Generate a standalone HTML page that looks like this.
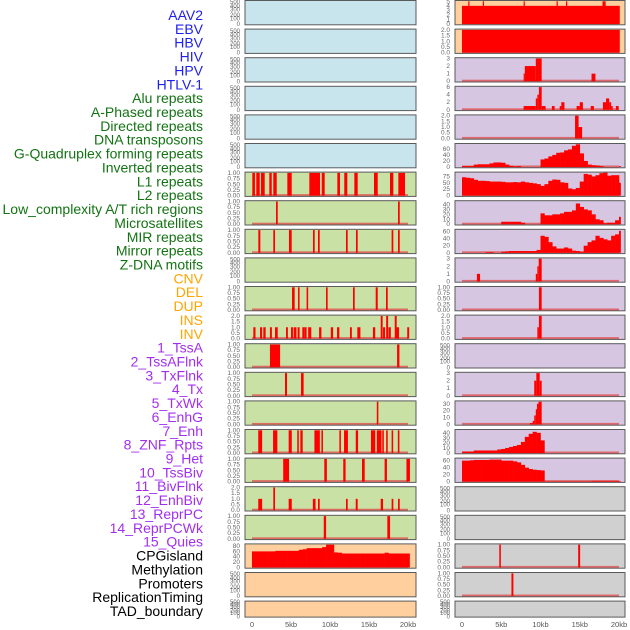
<!DOCTYPE html>
<html><head><meta charset="utf-8"><style>
html,body{margin:0;padding:0;background:#fff;width:630px;height:630px;overflow:hidden}
svg{display:block;font-family:"Liberation Sans",sans-serif}
</style></head><body>
<svg id="chart" width="630" height="630" viewBox="0 0 630 630" xmlns="http://www.w3.org/2000/svg"></svg>
<script>
const labels = ["AAV2","EBV","HBV","HIV","HPV","HTLV-1","Alu repeats","A-Phased repeats","Directed repeats","DNA transposons","G-Quadruplex forming repeats","Inverted repeats","L1 repeats","L2 repeats","Low_complexity A/T rich regions","Microsatellites","MIR repeats","Mirror repeats","Z-DNA motifs","CNV","DEL","DUP","INS","INV","1_TssA","2_TssAFlnk","3_TxFlnk","4_Tx","5_TxWk","6_EnhG","7_Enh","8_ZNF_Rpts","9_Het","10_TssBiv","11_BivFlnk","12_EnhBiv","13_ReprPC","14_ReprPCWk","15_Quies","CPGisland","Methylation","Promoters","ReplicationTiming","TAD_boundary"];
const labelGroups = [6,13,5,15,5];
const groupColors = ["#1f1fef","#137313","#ffa500","#a22ff0","#000000"];
const xTicks = [0,5,10,15,20];
const xTickLabels = ["0","5kb","10kb","15kb","20kb"];

// left column track data (segments [startKb,endKb,value] or 0.5kb bins)
const L6 = [[0.04,0.38,1],[0.55,0.99,1],[1.15,1.63,1],[2.22,2.53,1],[2.73,3.17,1],[4.53,5.09,1],[7.35,8.72,1],[8.94,9.32,1],[10.94,11.28,1],[11.83,12.22,1],[13.12,13.55,1],[15.64,16.12,1],[17.69,18.12,1],[18.76,19.62,1]];
const L7 = [[3.08,3.3,1],[18.72,18.94,1]];
const L8 = [[0.81,1.07,1],[2.73,2.95,1],[4.74,5.09,1],[7.82,8.04,1],[8.46,8.68,1],[12.05,12.27,1],[13.33,13.55,1],[17.9,18.12,1],[18.72,18.94,1]];
const L10 = [[5.13,5.47,1],[5.9,6.1,1],[7.0,7.2,1],[9.49,9.7,1],[12.95,13.17,1],[15.86,16.12,1],[17.18,17.4,1]];
const L11 = [[0.17,0.45,1],[1.03,1.3,1],[1.45,1.75,1],[2.3,2.55,1],[2.95,3.3,1],[4.36,4.6,1],[5.0,5.25,1],[5.34,5.7,1],[5.85,6.1,1],[6.45,6.7,1],[6.7,7.0,1],[7.2,7.6,1],[8.6,8.9,1],[10.1,10.4,1],[10.9,11.2,1],[12.56,12.8,1],[13.5,13.9,1],[15.5,15.8,1],[16.5,16.75,2],[16.8,17.05,1],[17.2,17.45,2],[17.5,17.8,1],[18.3,18.55,2],[18.5,18.85,1],[19.9,20.15,1]];
const L12 = [[2.3,3.6,1],[18.6,18.9,1]];
const L13 = [[4.23,4.49,1],[6.28,6.62,1]];
const L14 = [[16.0,16.2,1]];
const L15 = [[0.8,1.3,1],[2.7,3.25,1],[4.7,5.1,1],[5.8,6.0,1],[6.2,6.5,1],[8.0,8.7,1],[8.9,9.1,1],[11.2,11.4,1],[11.8,12.3,1],[13.3,13.6,1],[15.25,15.8,1],[16.0,16.6,1],[16.7,16.9,1],[17.2,17.4,1],[17.9,18.1,1],[18.7,18.9,1]];
const L16 = [[4.0,4.75,1],[9.27,9.6,1],[11.7,12.0,1],[14.1,14.45,1],[17.0,17.3,1],[19.8,20.25,1]];
const L17 = [[0.8,1.3,1],[2.73,2.95,2],[4.7,5.1,1],[7.8,8.15,1],[8.46,8.68,1],[12.05,12.27,1],[13.3,13.55,1],[16.5,16.8,1],[17.9,18.12,1],[18.72,18.94,1]];
const L18 = [[9.2,9.5,1],[17.35,17.7,1]];
const L19 = [60,60,60,60,60,60,62,62,62,62,62,62,66,68,72,72,72,72,76,85,85,56,55,52,52,52,52,52,52,52,52,52,52,52,55,52,52,52,52,52,52];

// right column track data
const R0 = [[0,20.1,4],[0.8,0.95,5],[2.65,2.8,5],[7.85,8.0,5],[12.05,12.2,5],[13.25,13.4,5],[17.9,18.3,5]];
const R1 = [[0,20.1,2]];
const R2 = [[7.85,8.0,1],[8.0,9.4,2],[9.4,10.15,3],[16.5,17.0,1]];
const R3 = [[7.85,9.4,1],[9.4,9.6,3],[9.6,9.8,4],[9.8,10.15,6],[10.15,10.65,1],[11.45,11.8,1],[12.45,12.65,1],[12.65,13.05,2],[14.6,15.0,1],[15.0,15.4,2],[16.4,16.8,1],[17.95,18.35,2],[18.35,18.75,3],[18.75,19.0,2],[19.0,19.2,1],[19.6,19.95,1]];
const R4 = [[14.4,14.85,2],[14.85,15.3,1]];
const R5 = [3,3,3,8,9,9,9,12,15,15,14,8,4,2,3,0,0,0,0,0,25,28,35,40,47,48,55,58,70,75,45,20,8,6,5,3,0,0,0,0,3];
const R6 = [72,70,68,62,58,58,57,55,55,55,54,52,52,53,52,55,52,50,48,45,38,45,58,63,62,52,50,28,25,30,55,85,82,75,80,88,90,78,80,80,50];
const R7 = [0,0,0,0,0,0,0,0,0,0,5,5,5,5,5,3,0,0,0,0,22,18,18,20,20,22,25,25,28,42,35,30,28,20,10,8,2,3,3,8,15];
const R8 = [0,0,0,0,0,0,2,2,0,0,3,4,5,5,5,5,5,5,5,8,48,45,30,18,12,12,15,12,6,5,3,20,30,35,48,42,38,35,48,52,62];
const R9 = [[1.9,2.3,1],[9.4,9.6,1],[9.6,9.77,2],[9.77,10.15,3]];
const R10 = [[9.8,10.15,1]];
const R11 = [[9.6,9.8,1],[9.8,10.15,2]];
const R13 = [[9.2,9.47,2],[9.47,9.9,3],[9.9,10.15,2]];
const R14 = [[8.66,9.0,2],[9.0,9.2,5],[9.2,9.4,13],[9.4,9.55,22],[9.55,9.75,30],[9.75,10.15,33]];
const R15 = [3,3,3,5,5,5,5,5,5,7,8,10,12,14,16,22,32,38,42,40,25,0,0,0,0,0,0,0,0,0,0,0,0,0,0,0,0,0,0,0,0];
const R16 = [60,60,61,62,62,62,62,63,63,63,60,60,60,58,55,48,40,36,34,33,32,1,1,1,1,1,1,1,1,1,1,1,1,2,2,2,2,2,2,2,2];
const R19 = [[4.75,4.95,1],[14.8,15.05,1]];
const R20 = [[6.3,6.55,1]];

const tk1 = [[0,"0.00"],[0.25,"0.25"],[0.5,"0.50"],[0.75,"0.75"],[1,"1.00"]];
const tk2 = [[0,"0.0"],[0.5,"0.5"],[1,"1.0"],[1.5,"1.5"],[2,"2.0"]];
const tk3 = [[0,"0"],[1,"1"],[2,"2"],[3,"3"]];
const C = {blue:"#c8e4ec",green:"#c9e1a4",peach:"#ffd09e",purple:"#d6c6e2",grey:"#d0d0d0"};

function P(color,max,ticks,data,kind){return {color,max,ticks,data,kind};}
const left = [
 P(C.blue),P(C.blue),P(C.blue),P(C.blue),P(C.blue),P(C.blue),
 P(C.green,1,tk1,L6,"seg"),P(C.green,1,tk1,L7,"seg"),P(C.green,1,tk1,L8,"seg"),P(C.green),
 P(C.green,1,tk1,L10,"seg"),P(C.green,2,tk2,L11,"seg"),P(C.green,1,tk1,L12,"seg"),P(C.green,1,tk1,L13,"seg"),
 P(C.green,1,tk1,L14,"seg"),P(C.green,1,tk1,L15,"seg"),P(C.green,1,tk1,L16,"seg"),P(C.green,2,tk2,L17,"seg"),
 P(C.green,1,tk1,L18,"seg"),P(C.peach,85,[[0,"0"],[20,"20"],[40,"40"],[60,"60"],[80,"80"]],L19,"bins"),P(C.peach),P(C.peach)
];
const right = [
 P(C.peach,5,[[0,"0"],[1,"1"],[2,"2"],[3,"3"],[4,"4"],[5,"5"]],R0,"seg"),P(C.peach,2,tk2,R1,"seg"),
 P(C.purple,3,tk3,R2,"seg"),P(C.purple,6,[[0,"0"],[2,"2"],[4,"4"],[6,"6"]],R3,"seg"),P(C.purple,2,tk2,R4,"seg"),
 P(C.purple,75,[[0,"0"],[20,"20"],[40,"40"],[60,"60"]],R5,"bins"),
 P(C.purple,89,[[0,"0"],[25,"25"],[50,"50"],[75,"75"]],R6,"bins"),
 P(C.purple,46,[[0,"0"],[10,"10"],[20,"20"],[30,"30"],[40,"40"]],R7,"bins"),
 P(C.purple,64,[[0,"0"],[20,"20"],[40,"40"],[60,"60"]],R8,"bins"),
 P(C.purple,3,tk3,R9,"seg"),P(C.purple,1,tk1,R10,"seg"),P(C.purple,2,tk2,R11,"seg"),P(C.purple),
 P(C.purple,3,tk3,R13,"seg"),P(C.purple,33,[[0,"0"],[10,"10"],[20,"20"],[30,"30"]],R14,"seg"),
 P(C.purple,45,[[0,"0"],[10,"10"],[20,"20"],[30,"30"],[40,"40"]],R15,"bins"),
 P(C.purple,65,[[0,"0"],[20,"20"],[40,"40"],[60,"60"]],R16,"bins"),
 P(C.grey),P(C.grey),P(C.grey,1,tk1,R19,"seg"),P(C.grey,1,tk1,R20,"seg"),P(C.grey)
];

const NS="http://www.w3.org/2000/svg";
const svg=document.getElementById("chart");
function el(tag,attrs,parent){const e=document.createElementNS(NS,tag);for(const k in attrs)e.setAttribute(k,attrs[k]);(parent||svg).appendChild(e);return e;}

// labels
let li=0;
labelGroups.forEach((n,g)=>{for(let j=0;j<n;j++){
  const t=el("text",{x:203,y:(15+li*13.86+5).toFixed(1),"text-anchor":"end","font-size":"14",fill:groupColors[g]});
  t.textContent=labels[li];
  
  
  li++;
}});

const emptyTicks=[[0.03,"0"],[0.26,"100"],[0.41,"200"],[0.62,"300"],[0.78,"400"],[0.93,"500"]];
function drawCol(panels,x0,x1,k0,kScale,tickX,colName){
  const xs=kb=>k0+kb*kScale;
  panels.forEach((p,i)=>{
    const top=0.5+28.6*i, h=(i===21)?16:24.3, bot=top+h;
    const g=el("g",{});
    
    
    const bg=el("rect",{x:x0,y:top,width:x1-x0,height:h,fill:p.color},g);
    
    
    if(!p.data){
      emptyTicks.forEach(([f,lab])=>{
        const t=el("text",{x:tickX,y:(bot-f*h+2).toFixed(1),"text-anchor":"end","font-size":"6",fill:"#666"},g);
        t.textContent=lab;
        
        
      });
    } else {
      const lo=-0.035*p.max, hi=p.max*1.035;
      const ys=v=>bot-(v-lo)/(hi-lo)*h;
      p.ticks.forEach(([v,lab])=>{
        const t=el("text",{x:tickX,y:(ys(v)+2).toFixed(1),"text-anchor":"end","font-size":"6.5",fill:"#666"},g);
        t.textContent=lab;
        
        
      });
      const base=el("rect",{x:xs(0),y:ys(0)-1.5,width:xs(20)-xs(0),height:2,fill:"#e05050",opacity:0.8},g);
      
      
      if(p.kind==="seg"){
        p.data.forEach(([a,b,v])=>{
          const r=el("rect",{x:xs(a),y:ys(v),width:Math.max(1.2,xs(b)-xs(a)),height:ys(0)-ys(v),fill:"#ff0000"},g);
          
          
        });
      } else {
        p.data.forEach((v,j)=>{
          const a=j*0.5, b=Math.min(a+0.5,20.2);
          const r=el("rect",{x:xs(a),y:ys(v),width:xs(b)-xs(a)+0.3,height:ys(0)-ys(v),fill:"#ff0000"},g);
          
          
        });
      }
    }
    const fr=el("rect",{x:x0,y:top,width:x1-x0,height:h,fill:"none",stroke:"#5a5a5a","stroke-width":1},g);
    
    
  });
  xTicks.forEach((v,j)=>{
    const t=el("text",{x:xs(v),y:627,"text-anchor":"middle","font-size":"7.5",fill:"#555"});
    t.textContent=xTickLabels[j];
    
    
  });
}
drawCol(left,245,416,252,7.8,240,"left");
drawCol(right,455,625,462,7.85,450,"right");
</script>
</body></html>
